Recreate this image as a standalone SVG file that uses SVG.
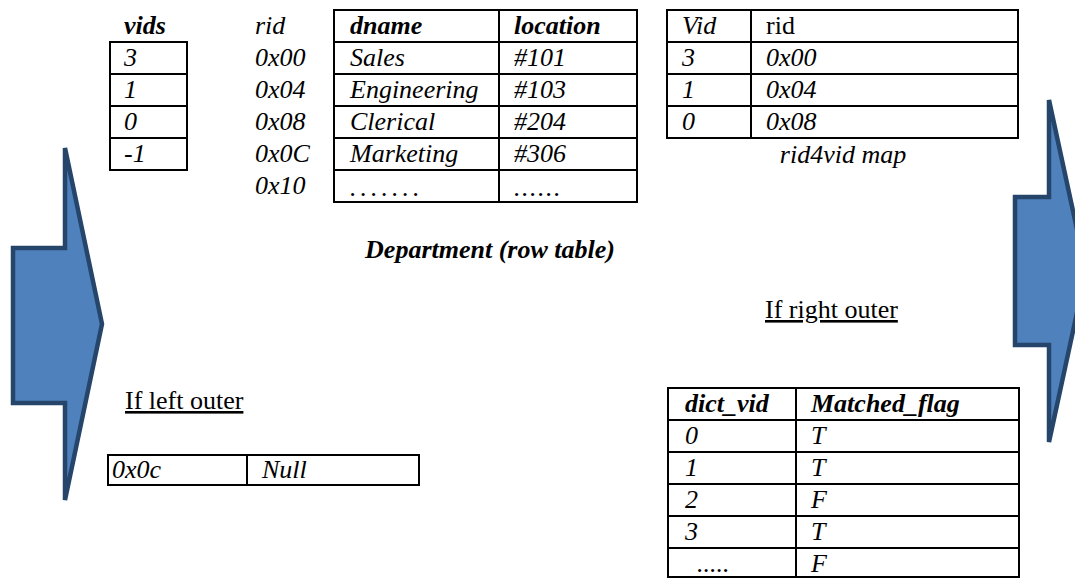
<svg xmlns="http://www.w3.org/2000/svg" width="1075" height="578" viewBox="0 0 1075 578">
  <style>
    .i { font-size: 26px; font-style: italic; }
    .bi { font-size: 26px; font-style: italic; font-weight: bold; }
    .r { font-size: 26px; }
    .u { font-size: 26px; text-decoration: underline; }
    .grid { fill: none; stroke: #000; stroke-width: 2; }
    .arrow { fill: #4F81BD; stroke: #26456B; stroke-width: 4.5; stroke-linejoin: miter; }
  </style>

  <!-- Block arrows -->
  <g id="arrow-left">
    <polygon class="arrow" points="13,248 65,248 65,148 102,324 65,500 65,403 13,403"/>
  </g>
  <g id="arrow-right">
    <polygon class="arrow" points="1015,197 1049,197 1049,100 1086,271 1049,442 1049,345 1015,345"/>
  </g>

  <!-- vids column -->
  <g id="vids">
    <text font-family="Liberation Serif" class="bi" x="124" y="34">vids</text>
    <rect class="grid" x="110" y="42" width="77" height="128"/>
    <path class="grid" d="M110 74H187M110 106H187M110 138H187"/>
    <text font-family="Liberation Serif" class="i" x="124" y="66">3</text>
    <text font-family="Liberation Serif" class="i" x="124" y="98">1</text>
    <text font-family="Liberation Serif" class="i" x="124" y="130">0</text>
    <text font-family="Liberation Serif" class="i" x="124" y="162">-1</text>
  </g>

  <!-- row ids -->
  <g id="rids">
    <text font-family="Liberation Serif" class="i" x="255" y="34">rid</text>
    <text font-family="Liberation Serif" class="i" x="255" y="66">0x00</text>
    <text font-family="Liberation Serif" class="i" x="255" y="98">0x04</text>
    <text font-family="Liberation Serif" class="i" x="255" y="130">0x08</text>
    <text font-family="Liberation Serif" class="i" x="255" y="162">0x0C</text>
    <text font-family="Liberation Serif" class="i" x="255" y="194">0x10</text>
  </g>

  <!-- Department row table -->
  <g id="department">
    <rect class="grid" x="334" y="10" width="303" height="192"/>
    <path class="grid" d="M334 42H637M334 74H637M334 106H637M334 138H637M334 170H637M499 10V202"/>
    <text font-family="Liberation Serif" class="bi" x="350" y="34">dname</text>
    <text font-family="Liberation Serif" class="bi" x="514" y="34">location</text>
    <text font-family="Liberation Serif" class="i" x="350" y="66">Sales</text>
    <text font-family="Liberation Serif" class="i" x="514" y="66">#101</text>
    <text font-family="Liberation Serif" class="i" x="350" y="98">Engineering</text>
    <text font-family="Liberation Serif" class="i" x="514" y="98">#103</text>
    <text font-family="Liberation Serif" class="i" x="350" y="130">Clerical</text>
    <text font-family="Liberation Serif" class="i" x="514" y="130">#204</text>
    <text font-family="Liberation Serif" class="i" x="350" y="162">Marketing</text>
    <text font-family="Liberation Serif" class="i" x="514" y="162">#306</text>
    <text font-family="Liberation Serif" class="i" x="350" y="196" letter-spacing="4">.......</text>
    <text font-family="Liberation Serif" class="i" x="514" y="196" letter-spacing="1.5">......</text>
    <text font-family="Liberation Serif" class="bi" x="490" y="258" text-anchor="middle">Department (row table)</text>
  </g>

  <!-- rid4vid map -->
  <g id="rid4vid">
    <rect class="grid" x="667" y="10" width="351" height="128"/>
    <path class="grid" d="M667 42H1018M667 74H1018M667 106H1018M751 10V138"/>
    <text font-family="Liberation Serif" class="i" x="682" y="34">Vid</text>
    <text font-family="Liberation Serif" class="r" x="766" y="34">rid</text>
    <text font-family="Liberation Serif" class="i" x="682" y="66">3</text>
    <text font-family="Liberation Serif" class="i" x="766" y="66">0x00</text>
    <text font-family="Liberation Serif" class="i" x="682" y="98">1</text>
    <text font-family="Liberation Serif" class="i" x="766" y="98">0x04</text>
    <text font-family="Liberation Serif" class="i" x="682" y="130">0</text>
    <text font-family="Liberation Serif" class="i" x="766" y="130">0x08</text>
    <text font-family="Liberation Serif" class="i" x="843" y="163" text-anchor="middle">rid4vid map</text>
  </g>

  <!-- left outer case -->
  <g id="left-outer">
    <text font-family="Liberation Serif" class="u" x="125" y="409">If left outer</text>
    <rect class="grid" x="108" y="455" width="311" height="30"/>
    <path class="grid" d="M247 455V485"/>
    <text font-family="Liberation Serif" class="i" x="112" y="478">0x0c</text>
    <text font-family="Liberation Serif" class="i" x="262" y="478">Null</text>
  </g>

  <!-- right outer case -->
  <g id="right-outer">
    <text font-family="Liberation Serif" class="u" x="765" y="318">If right outer</text>
    <rect class="grid" x="668" y="388" width="351" height="189"/>
    <path class="grid" d="M668 420H1019M668 452H1019M668 484H1019M668 516H1019M668 548H1019M796 388V577"/>
    <text font-family="Liberation Serif" class="bi" x="685" y="412">dict_vid</text>
    <text font-family="Liberation Serif" class="bi" x="811" y="412">Matched_flag</text>
    <text font-family="Liberation Serif" class="i" x="685" y="444">0</text>
    <text font-family="Liberation Serif" class="i" x="811" y="444">T</text>
    <text font-family="Liberation Serif" class="i" x="685" y="476">1</text>
    <text font-family="Liberation Serif" class="i" x="811" y="476">T</text>
    <text font-family="Liberation Serif" class="i" x="685" y="508">2</text>
    <text font-family="Liberation Serif" class="i" x="811" y="508">F</text>
    <text font-family="Liberation Serif" class="i" x="685" y="540">3</text>
    <text font-family="Liberation Serif" class="i" x="811" y="540">T</text>
    <text font-family="Liberation Serif" class="i" x="697" y="572">.....</text>
    <text font-family="Liberation Serif" class="i" x="811" y="572">F</text>
  </g>
</svg>
